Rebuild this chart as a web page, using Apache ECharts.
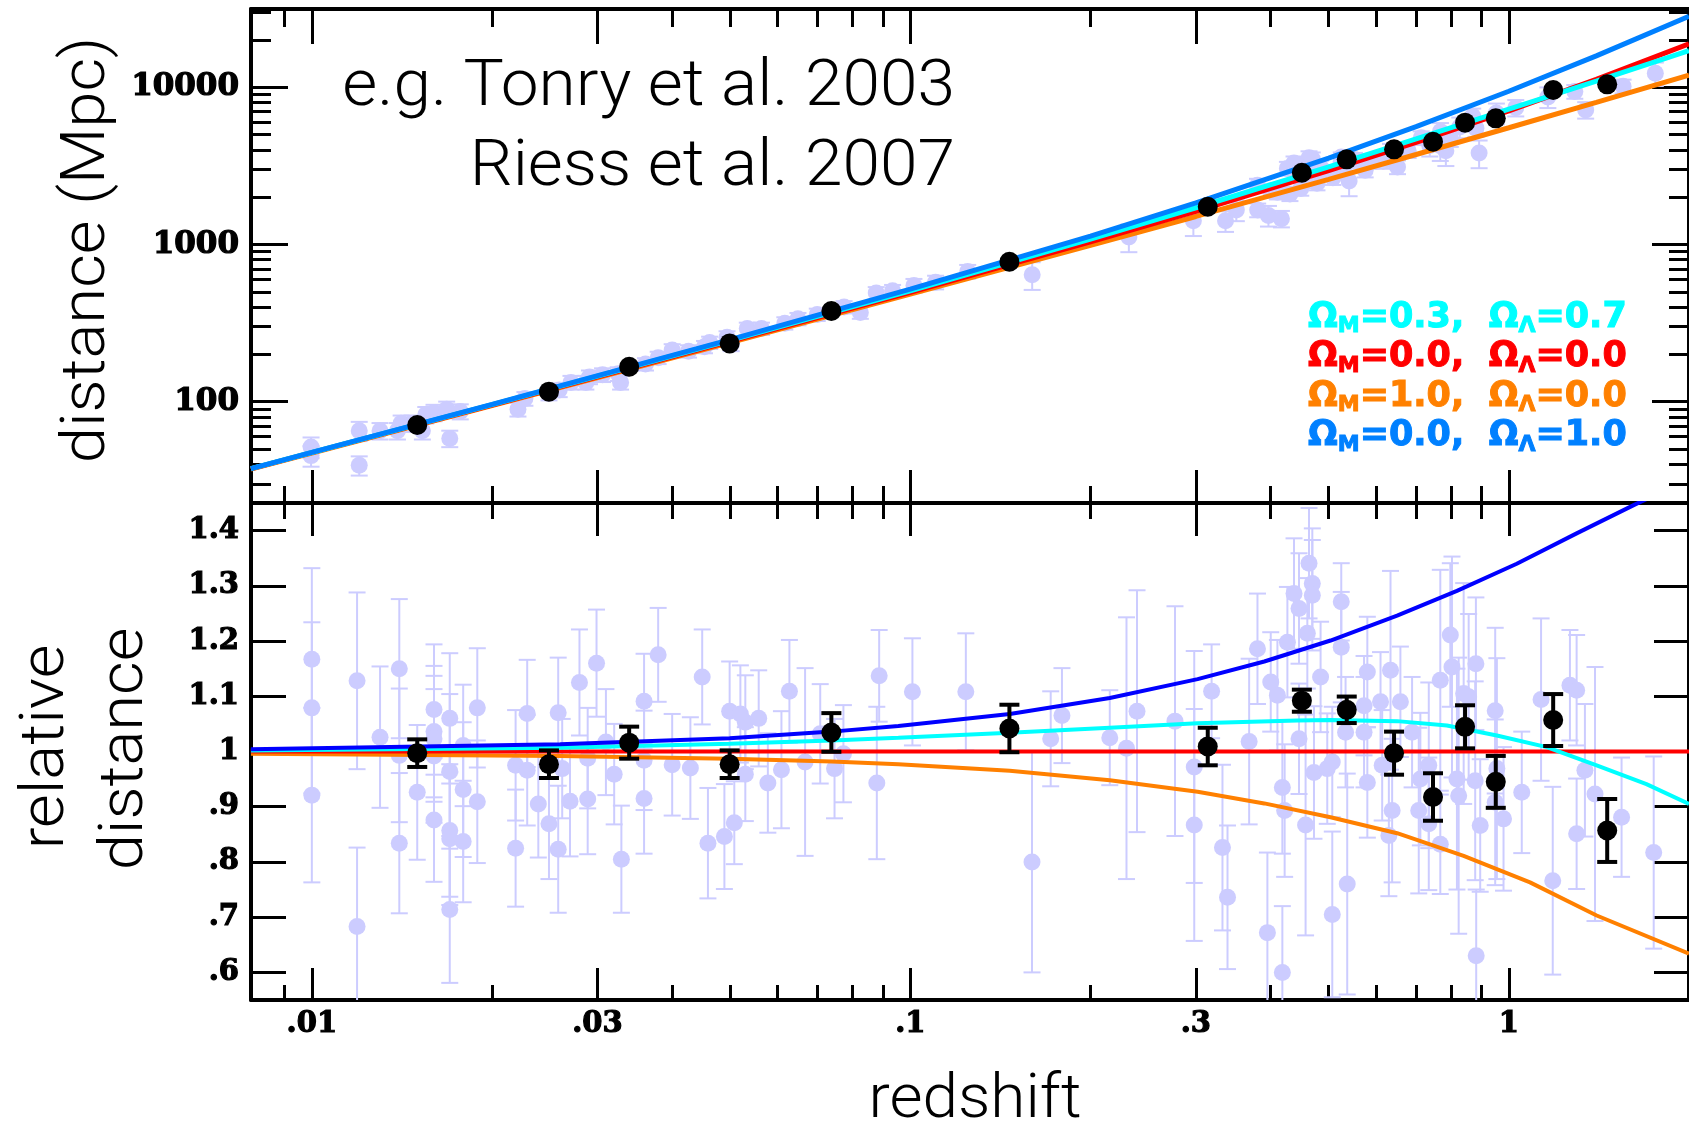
<!DOCTYPE html>
<html>
<head>
<meta charset="utf-8">
<script src="https://cdn.jsdelivr.net/npm/echarts@6/dist/echarts.min.js"></script>
<style>
  html, body { margin: 0; padding: 0; background: #fff; }
  #chart { width: 1689px; height: 1126px; }
</style>
</head>
<body>
<div id="chart"></div>
<script>
// ---------- axis ticks ----------
const zTickMajor = [0.01, 0.03, 0.1, 0.3, 1];
const zTickLabels = ['.01', '.03', '.1', '.3', '1'];
const zTickMinor = [0.009, 0.02, 0.04, 0.05, 0.06, 0.07, 0.08, 0.09, 0.2, 0.4, 0.5, 0.6, 0.7, 0.8, 0.9, 2];

const distTickMajor = [100, 1000, 10000];
const distTickLabels = ['100', '1000', '10000'];
const distTickMinor = [30, 40, 50, 60, 70, 80, 90, 200, 300, 400, 500, 600, 700, 800, 900,
  2000, 3000, 4000, 5000, 6000, 7000, 8000, 9000, 20000, 30000];

const relTicks = [0.6, 0.7, 0.8, 0.9, 1.0, 1.1, 1.2, 1.3, 1.4];
const relTickLabels = ['.6', '.7', '.8', '.9', '1', '1.1', '1.2', '1.3', '1.4'];

// ---------- individual supernovae: [redshift, distance (Mpc), fractional error] ----------
const snHubble = [
  [0.00997, 51.5, 0.15], [0.00997, 45.4, 0.15], [0.0120, 65.3, 0.14], [0.0120, 39.4, 0.14],
  [0.0130, 65.3, 0.12], [0.0139, 65.3, 0.12], [0.0141, 72.9, 0.12], [0.0147, 72.9, 0.12],
  [0.0153, 65.3, 0.12], [0.0155, 82.6, 0.12], [0.0160, 85.3, 0.12], [0.0168, 89.4, 0.12],
  [0.0170, 58.4, 0.12], [0.0177, 86.7, 0.11], [0.0221, 89.4, 0.10], [0.0227, 104.7, 0.10],
  [0.0249, 113.3, 0.10], [0.0259, 118.8, 0.10], [0.0271, 132.7, 0.10], [0.0287, 132.7, 0.10],
  [0.0291, 143.6, 0.10], [0.0306, 148.2, 0.10], [0.0325, 150.5, 0.10], [0.0328, 132.7, 0.10],
  [0.0361, 173.5, 0.09], [0.0379, 190.7, 0.09], [0.0400, 213, 0.09], [0.0426, 209.7, 0.09],
  [0.0453, 223.4, 0.09], [0.0462, 237.8, 0.09], [0.0494, 257.4, 0.09], [0.0502, 230.4, 0.09],
  [0.0534, 292, 0.09], [0.0564, 292, 0.09], [0.0617, 316, 0.09], [0.0649, 336.6, 0.09],
  [0.0699, 358.5, 0.09], [0.0775, 400.4, 0.09], [0.0825, 370, 0.09], [0.0877, 491.5, 0.09],
  [0.0934, 507.3, 0.09], [0.1014, 549, 0.10], [0.1102, 575.5, 0.10], [0.1247, 674, 0.10],
  [0.1598, 642.7, 0.20], [0.2318, 1117, 0.20], [0.2971, 1415, 0.20], [0.3362, 1415, 0.15],
  [0.3505, 1656, 0.15], [0.3805, 1656, 0.10], [0.3966, 1530, 0.15], [0.4169, 1460, 0.12],
  [0.3802, 2380, 0.10], [0.4001, 2200, 0.09], [0.4105, 2150, 0.10], [0.4266, 3050, 0.10],
  [0.4376, 3300, 0.10], [0.4461, 3230, 0.10], [0.4606, 3200, 0.10], [0.4636, 3560, 0.10],
  [0.4695, 3500, 0.10], [0.4847, 3100, 0.10], [0.5248, 3600, 0.07], [0.5248, 3350, 0.10],
  [0.4308, 2099, 0.10], [0.4491, 2271, 0.10], [0.4585, 2536, 0.10], [0.4780, 2457, 0.10],
  [0.4978, 2877, 0.10], [0.5083, 2659, 0.10], [0.5298, 3017, 0.10], [0.5409, 2536, 0.20],
  [0.5522, 3477, 0.10], [0.5754, 2970, 0.10], [0.5802, 3400, 0.10], [0.5998, 3369, 0.10],
  [0.6252, 3477, 0.10], [0.6343, 3700, 0.18], [0.6516, 3114, 0.10], [0.6789, 3945, 0.10],
  [0.7139, 4769, 0.10], [0.7378, 4269, 0.15], [0.7682, 4250, 0.20], [0.7687, 5241, 0.13],
  [0.7848, 3945, 0.20], [0.7984, 4800, 0.13], [0.8279, 5583, 0.15], [0.8703, 6536, 0.12],
  [0.8810, 5500, 0.12], [0.8919, 3822, 0.20], [0.9532, 6853, 0.15], [1.027, 7417, 0.12],
  [1.162, 8682, 0.15], [1.289, 9396, 0.10], [1.344, 7184, 0.12], [1.552, 10167, 0.10],
  [1.757, 12286, 0.17]
];

// ---------- individual supernovae: [redshift, relative distance, error] ----------
const snRelative = [
  [0.0100, 1.167, 0.165], [0.0100, 1.079, 0.155], [0.0100, 0.921, 0.158],
  [0.0119, 1.128, 0.160], [0.0119, 0.683, 0.143], [0.0130, 1.026, 0.128],
  [0.0140, 1.150, 0.126], [0.0140, 0.993, 0.121], [0.0140, 0.834, 0.127],
  [0.0150, 0.926, 0.122],
  [0.0160, 1.076, 0.118], [0.0160, 1.036, 0.119], [0.0160, 1.023, 0.114], [0.0160, 0.992, 0.121], [0.0160, 0.876, 0.112],
  [0.0170, 1.060, 0.118], [0.0170, 0.964, 0.140], [0.0170, 0.857, 0.120], [0.0170, 0.842, 0.120], [0.0170, 0.714, 0.133],
  [0.0179, 1.011, 0.110], [0.0179, 0.931, 0.122], [0.0179, 0.837, 0.110],
  [0.0189, 1.079, 0.108], [0.0189, 0.909, 0.111],
  [0.0219, 0.975, 0.100], [0.0219, 0.825, 0.106],
  [0.0229, 1.069, 0.097], [0.0229, 0.966, 0.100],
  [0.0239, 0.905, 0.097], [0.0249, 0.869, 0.100],
  [0.0258, 1.070, 0.100], [0.0258, 0.823, 0.115], [0.0262, 0.969, 0.090],
  [0.0270, 0.910, 0.100], [0.0280, 1.125, 0.096],
  [0.0289, 0.988, 0.091], [0.0289, 0.914, 0.100],
  [0.0299, 1.160, 0.097], [0.0310, 1.017, 0.096], [0.0320, 0.959, 0.091], [0.0329, 0.805, 0.097],
  [0.0359, 1.091, 0.086], [0.0359, 0.984, 0.090], [0.0359, 0.915, 0.100],
  [0.0379, 1.175, 0.085], [0.0400, 0.976, 0.092], [0.0429, 0.970, 0.092], [0.0449, 1.135, 0.086],
  [0.0459, 0.834, 0.100], [0.0489, 0.846, 0.095], [0.0499, 1.073, 0.090], [0.0508, 0.871, 0.075],
  [0.0520, 1.068, 0.088], [0.0530, 1.053, 0.085], [0.0530, 0.959, 0.085], [0.0558, 1.060, 0.087],
  [0.0578, 0.943, 0.090], [0.0609, 0.967, 0.106], [0.0628, 1.109, 0.093], [0.0667, 0.981, 0.170],
  [0.0707, 1.032, 0.090], [0.0747, 0.969, 0.090], [0.0773, 0.996, 0.088], [0.0879, 0.943, 0.138],
  [0.0887, 1.137, 0.083], [0.1008, 1.108, 0.097], [0.1238, 1.108, 0.106], [0.1597, 0.800, 0.200],
  [0.1716, 1.023, 0.086], [0.1792, 1.065, 0.086], [0.2154, 1.025, 0.086], [0.2297, 1.006, 0.237],
  [0.2392, 1.073, 0.219], [0.2768, 1.055, 0.208], [0.2981, 0.972, 0.210], [0.2981, 0.867, 0.210],
  [0.3187, 1.109, 0.085], [0.3323, 0.826, 0.150], [0.3388, 0.736, 0.130], [0.3682, 1.018, 0.150],
  [0.3802, 1.186, 0.100], [0.3950, 0.672, 0.145], [0.4001, 1.126, 0.090], [0.4105, 1.102, 0.100],
  [0.4184, 0.935, 0.120], [0.4184, 0.600, 0.120], [0.4221, 0.893, 0.120], [0.4266, 1.198, 0.100],
  [0.4376, 1.286, 0.100], [0.4461, 1.259, 0.100], [0.4461, 1.023, 0.100], [0.4575, 0.867, 0.200],
  [0.4606, 1.214, 0.100], [0.4636, 1.341, 0.100], [0.4695, 1.304, 0.100], [0.4695, 1.283, 0.100],
  [0.4725, 0.962, 0.120], [0.4847, 1.135, 0.100], [0.4973, 0.969, 0.100], [0.5070, 0.981, 0.100],
  [0.5070, 0.705, 0.150], [0.5248, 1.271, 0.070], [0.5248, 1.189, 0.100], [0.5336, 1.035, 0.100],
  [0.5370, 0.760, 0.200], [0.5729, 1.035, 0.100], [0.5729, 1.083, 0.090], [0.5802, 1.144, 0.100],
  [0.5802, 0.944, 0.100], [0.6104, 1.090, 0.090], [0.6143, 0.975, 0.100], [0.6303, 0.848, 0.110],
  [0.6343, 1.147, 0.180], [0.6383, 0.893, 0.130], [0.6589, 1.090, 0.100], [0.6892, 1.035, 0.100],
  [0.7071, 0.893, 0.150], [0.7115, 0.950, 0.120], [0.7349, 0.975, 0.150], [0.7349, 0.869, 0.120],
  [0.7682, 0.832, 0.090], [0.7682, 1.129, 0.200], [0.7984, 1.211, 0.130], [0.8035, 1.153, 0.200],
  [0.8190, 0.950, 0.200], [0.8245, 0.920, 0.250], [0.8405, 1.105, 0.200], [0.8568, 1.099, 0.150],
  [0.8810, 1.159, 0.120], [0.8820, 0.630, 0.120], [0.8786, 0.947, 0.180], [0.8957, 0.866, 0.120],
  [0.9489, 1.074, 0.150], [0.9489, 0.908, 0.150], [0.9550, 0.969, 0.200], [0.9798, 0.878, 0.130],
  [1.051, 0.926, 0.110], [1.132, 1.094, 0.147], [1.184, 0.766, 0.170], [1.265, 1.120, 0.100],
  [1.298, 1.111, 0.100], [1.298, 0.851, 0.100], [1.340, 0.966, 0.120], [1.393, 0.923, 0.230],
  [1.543, 0.881, 0.108], [1.746, 0.817, 0.174]
];

// ---------- binned averages ----------
const binZ = [0.0150, 0.0249, 0.0339, 0.0499, 0.0738, 0.1464, 0.314, 0.451, 0.536, 0.643, 0.747, 0.845, 0.951, 1.186, 1.46];
const binDist = [71.1, 115.8, 167, 235, 377.6, 777, 1740, 2863, 3483, 4033, 4508, 5957, 6350, 9613, 10450];
const binRel = [0.997, 0.977, 1.016, 0.977, 1.0345, 1.0417, 1.009, 1.092, 1.0755, 0.997, 0.9176, 1.0447, 0.945, 1.057, 0.857];
const binRelErr = [0.025, 0.025, 0.029, 0.025, 0.035, 0.043, 0.034, 0.020, 0.024, 0.039, 0.043, 0.039, 0.047, 0.047, 0.057];

// ---------- cosmological models, distance (Mpc) ----------
const modelZ = [0.00791, 0.01, 0.02, 0.05, 0.1, 0.2, 0.3, 0.5, 0.7, 1.0, 1.4, 2.0];
const distOpen = [37.4, 47.4, 95.3, 242, 496, 1038, 1628, 2950, 4460, 7080, 11230, 18880];      // ΩM=0, ΩΛ=0
const distLambda = [37.5, 47.6, 96.2, 248, 520, 1132, 1840, 3540, 5620, 9440, 15850, 28300];    // ΩM=0, ΩΛ=1
const distMatter = [37.3, 47.2, 94.6, 238, 484, 987, 1508, 2598, 3739, 5530, 8030, 11970];      // ΩM=1, ΩΛ=0
const distConcord = [37.5, 47.5, 95.9, 246, 508, 1083, 1713, 3115, 4692, 7257, 10950, 17090];   // ΩM=0.3, ΩΛ=0.7

// ---------- cosmological models, relative distance ----------
const relOpen = [[0.00791, 1.0], [2.0, 1.0]];
const relLambda = [[0.00791, 1.004], [0.026, 1.013], [0.0499, 1.024], [0.0739, 1.036], [0.0955, 1.046],
  [0.1466, 1.068], [0.2154, 1.097], [0.302, 1.131], [0.3903, 1.163], [0.5036, 1.201], [0.6506, 1.246],
  [0.819, 1.291], [1.031, 1.34], [1.298, 1.395], [1.623, 1.447], [1.80, 1.47]];
const relConcord = [[0.00791, 1.002], [0.026, 1.007], [0.0499, 1.014], [0.0739, 1.02], [0.0955, 1.025],
  [0.1466, 1.034], [0.2154, 1.043], [0.302, 1.051], [0.4432, 1.056], [0.5036, 1.057], [0.6506, 1.055],
  [0.788, 1.047], [0.955, 1.029], [1.157, 1.008], [1.402, 0.975], [1.698, 0.941], [2.0, 0.905]];
const relMatter = [[0.00791, 0.996], [0.026, 0.992], [0.0499, 0.987], [0.0739, 0.982], [0.0955, 0.977],
  [0.1466, 0.965], [0.2154, 0.948], [0.302, 0.927], [0.3903, 0.906], [0.5036, 0.881], [0.6506, 0.852],
  [0.8404, 0.811], [1.085, 0.763], [1.402, 0.703], [2.0, 0.634]];

// ---------- legend rows ----------
const legendOmegaM = ['0.3', '0.0', '1.0', '0.0'];
const legendOmegaL = ['0.7', '0.0', '0.0', '1.0'];
const legendColors = ['#00ffff', '#ff0000', '#ff8000', '#0080ff'];

// ---------- layout / style ----------
const Z_MIN = 0.007913, Z_MAX = 2.0;
const DIST_MIN = 22.68, DIST_MAX = 31490;
const REL_MIN = 0.55, REL_MAX = 1.45;
const PLOT_LEFT = 251, PLOT_WIDTH = 1441.6;
const LAVENDER = '#ccccff';
const TICK_FONT = 'DejaVu Serif';
const LEGEND_FONT = 'DejaVu Sans';
const TITLE_FONT = 'Roboto';

function nearestLabel(values, labels, logScale) {
  return function (v) {
    let best = 0, bestD = Infinity;
    values.forEach(function (t, i) {
      const d = logScale ? Math.abs(Math.log(t / v)) : Math.abs(t - v);
      if (d < bestD) { bestD = d; best = i; }
    });
    return labels[best];
  };
}

// heavy tick-label style (a thin outline in the same colour thickens the strokes)
function tickLabel(size, margin, values, labels, logScale) {
  return {
    show: true, customValues: values, margin: margin,
    fontFamily: TICK_FONT, fontWeight: 'bold', fontSize: size, color: '#000',
    textBorderColor: '#000', textBorderWidth: 1.2,
    formatter: nearestLabel(values, labels, logScale)
  };
}

function zAxis(grid, position, ticks, len, showLine, showLabel) {
  return {
    type: 'log', logBase: 10, gridIndex: grid, position: position,
    min: Z_MIN, max: Z_MAX,
    axisLine: { show: showLine, onZero: false, lineStyle: { color: '#000', width: 4 } },
    axisTick: { show: true, inside: true, length: len, customValues: ticks,
      lineStyle: { color: '#000', width: 3 } },
    axisLabel: showLabel ? tickLabel(29, 10, zTickMajor, zTickLabels, true) : { show: false },
    splitLine: { show: false }, minorTick: { show: false }
  };
}

function distAxis(position, ticks, len, showLine, showLabel) {
  return {
    type: 'log', logBase: 10, gridIndex: 0, position: position,
    min: DIST_MIN, max: DIST_MAX,
    axisLine: { show: showLine, onZero: false, lineStyle: { color: '#000', width: 4 } },
    axisTick: { show: true, inside: true, length: len, customValues: ticks,
      lineStyle: { color: '#000', width: 3 } },
    axisLabel: showLabel ? tickLabel(31, 12, distTickMajor, distTickLabels, true) : { show: false },
    splitLine: { show: false }, minorTick: { show: false }
  };
}

function relAxis(position, showLabel) {
  return {
    type: 'value', gridIndex: 1, position: position,
    min: REL_MIN, max: REL_MAX,
    axisLine: { show: true, onZero: false, lineStyle: { color: '#000', width: 4 } },
    axisTick: { show: true, inside: true, length: 35, customValues: relTicks,
      lineStyle: { color: '#000', width: 3 } },
    axisLabel: showLabel ? tickLabel(29, 12, relTicks, relTickLabels, false) : { show: false },
    splitLine: { show: false }, minorTick: { show: false }
  };
}

// vertical error bar with caps; log=true means the error is a fraction of the value
function errorBars(capHalf, width, color, log) {
  return function (params, api) {
    const x = api.value(0), y = api.value(1), e = api.value(2);
    const hiV = log ? y * (1 + e) : y + e;
    const loV = log ? y * (1 - e) : y - e;
    const pHi = api.coord([x, hiV]);
    const pLo = api.coord([x, loV]);
    const cs = params.coordSys;
    const top = cs.y, bottom = cs.y + cs.height;
    const y1 = Math.max(pHi[1], top), y2 = Math.min(pLo[1], bottom);
    if (y2 <= y1) return null;
    const st = { stroke: color, lineWidth: width };
    const children = [{ type: 'line', shape: { x1: pHi[0], y1: y1, x2: pHi[0], y2: y2 }, style: st }];
    if (pHi[1] >= top) children.push({ type: 'line', shape: { x1: pHi[0] - capHalf, y1: pHi[1], x2: pHi[0] + capHalf, y2: pHi[1] }, style: st });
    if (pLo[1] <= bottom) children.push({ type: 'line', shape: { x1: pLo[0] - capHalf, y1: pLo[1], x2: pLo[0] + capHalf, y2: pLo[1] }, style: st });
    return { type: 'group', children: children };
  };
}

function modelLine(xi, yi, data, color, width, z) {
  return {
    type: 'line', xAxisIndex: xi, yAxisIndex: yi, data: data,
    showSymbol: false, symbol: 'none', smooth: false, clip: true, z: z,
    lineStyle: { color: color, width: width }, silent: true
  };
}

const topPairs = function (vals) { return modelZ.map(function (z, i) { return [z, vals[i]]; }); };

// legend rows as rich text with subscripts
const legendGraphics = legendColors.map(function (c, i) {
  const base = { fontFamily: LEGEND_FONT, fontWeight: 'bold', fill: c, stroke: c, lineWidth: 1 };
  return {
    type: 'text', x: 1308, y: 317.5 + i * 39.6,
    style: {
      text: '{a|Ω}{s|M}{a|=' + legendOmegaM[i] + ',  Ω}{s|Λ}{a|=' + legendOmegaL[i] + '}',
      align: 'left', verticalAlign: 'middle',
      rich: {
        a: Object.assign({ fontSize: 35, lineHeight: 40, verticalAlign: 'middle' }, base),
        s: Object.assign({ fontSize: 22, lineHeight: 20, verticalAlign: 'bottom' }, base)
      }
    }
  };
});

function titleText(str, x, y, size, align, rotated, stretch) {
  return {
    type: 'text', x: x, y: y, rotation: rotated ? Math.PI / 2 : 0, scaleX: stretch, scaleY: 1,
    style: { text: str, font: '300 ' + size + 'px ' + TITLE_FONT, fill: '#000', align: align, verticalAlign: 'middle' }
  };
}

const chart = echarts.init(document.getElementById('chart'), null, { renderer: 'canvas' });

chart.setOption({
  animation: false,
  backgroundColor: '#ffffff',
  grid: [
    { left: PLOT_LEFT, top: 9, width: PLOT_WIDTH, height: 494, containLabel: false },
    { left: PLOT_LEFT, top: 503, width: PLOT_WIDTH, height: 497, containLabel: false }
  ],
  xAxis: [
    zAxis(0, 'bottom', zTickMajor, 33, true, false),   // 0
    zAxis(0, 'bottom', zTickMinor, 17, false, false),  // 1
    zAxis(0, 'top', zTickMajor, 35, true, false),      // 2
    zAxis(0, 'top', zTickMinor, 18, false, false),     // 3
    zAxis(1, 'bottom', zTickMajor, 32, true, true),    // 4
    zAxis(1, 'bottom', zTickMinor, 15, false, false),  // 5
    zAxis(1, 'top', zTickMajor, 33, true, false),      // 6
    zAxis(1, 'top', zTickMinor, 16, false, false)      // 7
  ],
  yAxis: [
    distAxis('left', distTickMajor, 37, true, true),   // 0
    distAxis('left', distTickMinor, 20, false, false), // 1
    distAxis('right', distTickMajor, 37, true, false), // 2
    distAxis('right', distTickMinor, 20, false, false),// 3
    relAxis('left', true),                             // 4
    relAxis('right', false)                            // 5
  ],
  graphic: [
    titleText('e.g. Tonry et al. 2003', 955, 88.5, 65, 'right', false, 1.04),
    titleText('Riess et al. 2007', 955, 168.5, 65, 'right', false, 1.04),
    titleText('distance (Mpc)', 88, 250, 62, 'center', true, 1.05),
    titleText('relative', 47, 747, 62, 'center', true, 1.05),
    titleText('distance', 126, 749, 62, 'center', true, 1.05),
    titleText('redshift', 975, 1101, 62, 'center', false, 1.03)
  ].concat(legendGraphics),
  series: [
    // ----- upper panel: distance vs redshift -----
    { type: 'custom', xAxisIndex: 0, yAxisIndex: 0, data: snHubble, z: 2, silent: true,
      encode: { x: 0, y: 1 }, renderItem: errorBars(8.5, 2, LAVENDER, true) },
    { type: 'scatter', xAxisIndex: 0, yAxisIndex: 0, z: 2, silent: true,
      data: snHubble.map(function (d) { return [d[0], d[1]]; }),
      symbol: 'circle', symbolSize: 17, itemStyle: { color: LAVENDER, opacity: 1 } },
    modelLine(0, 0, topPairs(distMatter), '#ff8000', 5, 3),
    modelLine(0, 0, topPairs(distOpen), '#ff0000', 5, 3),
    modelLine(0, 0, topPairs(distConcord), '#00ffff', 5, 3),
    modelLine(0, 0, topPairs(distLambda), '#0080ff', 5, 3),
    { type: 'scatter', xAxisIndex: 0, yAxisIndex: 0, z: 5, silent: true,
      data: binZ.map(function (z, i) { return [z, binDist[i]]; }),
      symbol: 'circle', symbolSize: 20, itemStyle: { color: '#000', opacity: 1 } },

    // ----- lower panel: relative distance vs redshift -----
    { type: 'custom', xAxisIndex: 4, yAxisIndex: 4, data: snRelative, z: 2, silent: true,
      encode: { x: 0, y: 1 }, renderItem: errorBars(8.5, 2, LAVENDER, false) },
    { type: 'scatter', xAxisIndex: 4, yAxisIndex: 4, z: 2, silent: true,
      data: snRelative.map(function (d) { return [d[0], d[1]]; }),
      symbol: 'circle', symbolSize: 17, itemStyle: { color: LAVENDER, opacity: 1 } },
    modelLine(4, 4, relMatter, '#ff8000', 4, 3),
    modelLine(4, 4, relOpen, '#ff0000', 4, 3),
    modelLine(4, 4, relConcord, '#00ffff', 4, 3),
    modelLine(4, 4, relLambda, '#0000ff', 4, 3),
    { type: 'custom', xAxisIndex: 4, yAxisIndex: 4, z: 4, silent: true,
      data: binZ.map(function (z, i) { return [z, binRel[i], binRelErr[i]]; }),
      encode: { x: 0, y: 1 }, renderItem: errorBars(10, 4, '#000', false) },
    { type: 'scatter', xAxisIndex: 4, yAxisIndex: 4, z: 5, silent: true,
      data: binZ.map(function (z, i) { return [z, binRel[i]]; }),
      symbol: 'circle', symbolSize: 20, itemStyle: { color: '#000', opacity: 1 } }
  ]
});
</script>
</body>
</html>
